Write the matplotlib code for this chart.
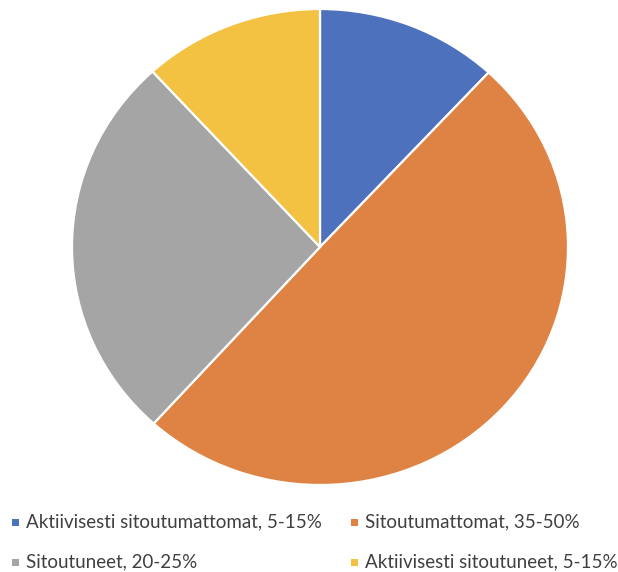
import matplotlib
matplotlib.use("Agg")
import matplotlib.pyplot as plt
from matplotlib.patches import Rectangle

# Data
labels = [
    "Aktiivisesti sitoutumattomat, 5-15%",
    "Sitoutumattomat, 35-50%",
    "Sitoutuneet, 20-25%",
    "Aktiivisesti sitoutuneet, 5-15%",
]
values = [11.9, 49.8, 26.5, 11.8]
colors = ["#4E71BE", "#DE8344", "#A5A5A5", "#F4C242"]

plt.rcParams["font.family"] = ["Lato", "DejaVu Sans"]

W, H = 618, 572
fig = plt.figure(figsize=(W / 100, H / 100), dpi=100)

# pie area (pixels): x 72..568, y 9..485 from top
ax = fig.add_axes([72 / W, (H - 485) / H, 496 / W, 476 / H])
ax.pie(
    values,
    colors=colors,
    startangle=90,
    counterclock=False,
    radius=1,
    wedgeprops=dict(edgecolor="white", linewidth=1.6),
)
ax.set_aspect("auto")
ax.set_xlim(-1, 1)
ax.set_ylim(-1, 1)
ax.axis("off")

# legend, two columns
col_x = [12, 351]
row_y = [522, 562]
for i, (lab, col) in enumerate(zip(labels, colors)):
    cx = col_x[i % 2]
    cy = row_y[i // 2]
    fig.patches.append(
        Rectangle((cx / W, (H - cy - 3.5) / H), 7 / W, 7 / H,
                  transform=fig.transFigure, facecolor=col, edgecolor="none")
    )
    fig.text((cx + 14) / W, (H - cy) / H, lab, fontsize=13.5,
             color="#404040", va="center", ha="left")

fig.savefig("out.png", dpi=100)
